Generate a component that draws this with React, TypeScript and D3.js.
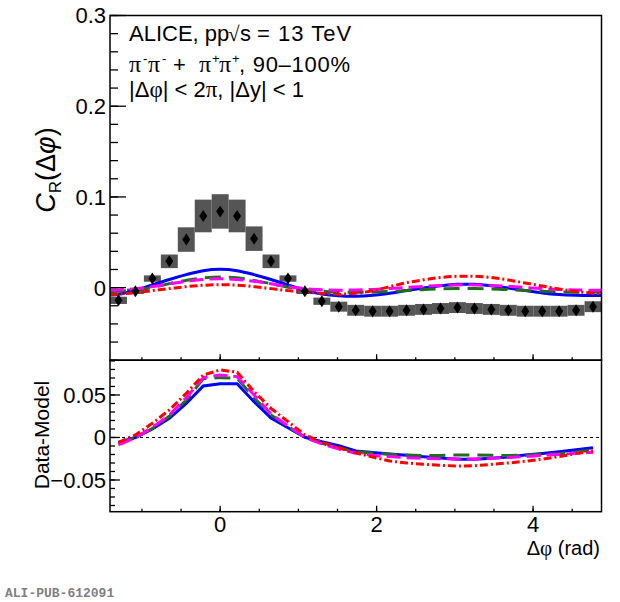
import React from "react";
import * as d3 from "d3";

// Histogram binning: 29 bins over one 2π period, bin 0 centred on Δφ = 0
const NBINS = 29;
const BIN = (2 * Math.PI) / NBINS;
const X_MIN = -6.5 * BIN;
const X_MAX = 22.5 * BIN;
const binCenters = d3.range(-6, 23).map((k) => k * BIN);
// model curves are drawn edge to edge: first / last value at the frame
const modelPhi = [X_MIN, ...binCenters, X_MAX];

// ALICE data, C_R(Δφ), bins k = -6 .. 22
const dataCR = [
  -0.014, -0.004, 0.010, 0.029, 0.053, 0.079, 0.084, 0.079, 0.054, 0.029,
  0.010, -0.004, -0.015, -0.021, -0.025, -0.026, -0.026, -0.025, -0.024, -0.023,
  -0.022, -0.023, -0.024, -0.025, -0.026, -0.026, -0.026, -0.025, -0.021,
];
// systematic uncertainty (half height of the grey boxes)
const systCR = [
  0.004, 0.003, 0.0035, 0.0075, 0.0135, 0.018, 0.019, 0.018, 0.0135, 0.0075,
  0.0035, 0.003, 0.004, 0.0055, 0.006, 0.006, 0.006, 0.006, 0.006, 0.006,
  0.006, 0.006, 0.006, 0.006, 0.006, 0.006, 0.006, 0.006, 0.006,
];

// model predictions (edge, bins -6..22, edge)
const modelBlue = [
  -0.0080, -0.0072, -0.0032, 0.0030, 0.0090, 0.0143, 0.0187, 0.0202, 0.0187, 0.0143,
  0.0090, 0.0030, -0.0030, -0.0070, -0.0090, -0.0096, -0.0085, -0.0062, -0.0032, -0.0005,
  0.0020, 0.0036, 0.0036, 0.0020, -0.0005, -0.0032, -0.0058, -0.0075, -0.0083, -0.0086, -0.0086,
];
const modelGreen = [
  -0.0046, -0.0040, -0.0024, 0.0002, 0.0044, 0.0080, 0.0108, 0.0117, 0.0108, 0.0080,
  0.0044, 0.0004, -0.0022, -0.0040, -0.0048, -0.0050, -0.0048, -0.0042, -0.0032, -0.0022,
  -0.0014, -0.0010, -0.0010, -0.0014, -0.0022, -0.0032, -0.0040, -0.0046, -0.0050, -0.0052, -0.0052,
];
const modelMagenta = [
  -0.0027, -0.0025, -0.0012, 0.0012, 0.0042, 0.0070, 0.0090, 0.0099, 0.0090, 0.0070,
  0.0042, 0.0012, -0.0010, -0.0024, -0.0028, -0.0026, -0.0020, -0.0010, 0.0002, 0.0014,
  0.0024, 0.0030, 0.0030, 0.0024, 0.0014, 0.0002, -0.0010, -0.0020, -0.0026, -0.0028, -0.0029,
];
const modelRed = [
  -0.0076, -0.0072, -0.0055, -0.0033, -0.0011, 0.0011, 0.0026, 0.0033, 0.0026, 0.0011,
  -0.0011, -0.0033, -0.0048, -0.0062, -0.0072, -0.0062, -0.0035, 0.0010, 0.0055, 0.0086,
  0.0112, 0.0125, 0.0125, 0.0112, 0.0085, 0.0050, 0.0018, -0.0015, -0.0042, -0.0062, -0.0070,
];

// lower panel: Data - Model, bins -6..22
const diffBlue = [
  -0.0057, 0.0000, 0.0100, 0.0226, 0.0400, 0.0606, 0.0633, 0.0633, 0.0420, 0.0230,
  0.0115, 0.0002, -0.0050, -0.0096, -0.0159, -0.0178, -0.0194, -0.0210, -0.0226, -0.0242,
  -0.0257, -0.0257, -0.0245, -0.0230, -0.0206, -0.0188, -0.0167, -0.0145, -0.0120,
];
const diffGreen = [
  -0.0075, 0.0000, 0.0105, 0.0250, 0.0440, 0.0690, 0.0704, 0.0696, 0.0468, 0.0265,
  0.0130, 0.0000, -0.0070, -0.0125, -0.0167, -0.0185, -0.0198, -0.0207, -0.0214, -0.0212,
  -0.0206, -0.0206, -0.0210, -0.0212, -0.0206, -0.0200, -0.0190, -0.0170, -0.0147,
];
const diffMagenta = [
  -0.0088, 0.0000, 0.0118, 0.0265, 0.0468, 0.0704, 0.0735, 0.0716, 0.0500, 0.0275,
  0.0137, 0.0000, -0.0076, -0.0135, -0.0186, -0.0210, -0.0225, -0.0237, -0.0245, -0.0250,
  -0.0253, -0.0252, -0.0245, -0.0235, -0.0225, -0.0210, -0.0198, -0.0186, -0.0174,
];
const diffRed = [
  -0.0057, 0.0030, 0.0167, 0.0324, 0.0520, 0.0735, 0.0794, 0.0767, 0.0540, 0.0343,
  0.0186, 0.0030, -0.0057, -0.0120, -0.0180, -0.0230, -0.0277, -0.0300, -0.0316, -0.0328,
  -0.0335, -0.0333, -0.0316, -0.0300, -0.0280, -0.0255, -0.0225, -0.0190, -0.0159,
];

const xTicks = [0, 2, 4];
const yTicksTop = [0, 0.1, 0.2, 0.3];
const yTicksBot = [-0.05, 0, 0.05];

const models = [
  { top: modelBlue, diff: diffBlue, color: "#0000ff", dash: "none" },
  { top: modelGreen, diff: diffGreen, color: "#1e6e1e", dash: "16,8" },
  { top: modelMagenta, diff: diffMagenta, color: "#ff00ff", dash: "14,6" },
  { top: modelRed, diff: diffRed, color: "#ff0000", dash: "8,3,2,3" },
];

const FONT = "'Liberation Sans', Arial, Helvetica, sans-serif";
const SERIF = "'Liberation Serif', 'Times New Roman', serif";

// frame geometry
const L = 110, R = 601.5;
const T1 = 15.5, B1 = 360.2;
const T2 = 360.2, B2 = 511.7;

export default function App() {
  const x = d3.scaleLinear().domain([X_MIN, X_MAX]).range([L, R]);
  const yTop = d3.scaleLinear().domain([-0.08, 0.3]).range([B1, T1]);
  const yBot = d3.scaleLinear().domain([-0.0873, 0.0909]).range([B2, T2]);

  const topLine = d3.line<number>().x((_, i) => x(modelPhi[i])).y((d) => yTop(d)).curve(d3.curveCatmullRom);
  const botLine = d3.line<number>().x((_, i) => x(binCenters[i])).y((d) => yBot(d));

  const xMinor = d3.range(-1, 5, 0.5).filter((v) => v >= X_MIN && v <= X_MAX);
  const yMinorTop = d3.range(-8, 31, 2).map((v) => v / 100);
  const yMinorBot = d3.range(-8, 10, 1).map((v) => v / 100);
  const bw = x(BIN) - x(0);

  return (
    <svg width={620} height={602} style={{ display: "block", position: "absolute", left: 0, top: 0, background: "#fff" }}>
      <defs>
        <clipPath id="clipTop"><rect x={L} y={T1} width={R - L} height={B1 - T1} /></clipPath>
        <clipPath id="clipBot"><rect x={L} y={T2} width={R - L} height={B2 - T2} /></clipPath>
      </defs>

      {/* ---------- upper panel ---------- */}
      <g clipPath="url(#clipTop)">
        {dataCR.map((d, i) => (
          <rect key={i} x={x(binCenters[i]) - bw / 2} y={yTop(d + systCR[i])} width={bw}
            height={yTop(d - systCR[i]) - yTop(d + systCR[i])} fill="#555" />
        ))}
        {models.map((m, i) => (
          <path key={i} d={topLine(m.top) ?? ""} fill="none" stroke={m.color} strokeWidth={3}
            strokeDasharray={m.dash} />
        ))}
        {dataCR.map((d, i) => (
          <path key={i} d="M0,-6L4,0L0,6L-4,0Z" transform={`translate(${x(binCenters[i])},${yTop(d)})`} fill="#000" />
        ))}
      </g>
      <rect x={L} y={T1} width={R - L} height={B1 - T1} fill="none" stroke="#000" strokeWidth={1.5} />
      {yMinorTop.map((v, i) => (
        <line key={i} x1={L} x2={L + 8} y1={yTop(v)} y2={yTop(v)} stroke="#000" strokeWidth={1.3} />
      ))}
      {yTicksTop.map((v) => (
        <g key={v}>
          <line x1={L} x2={L + 16} y1={yTop(v)} y2={yTop(v)} stroke="#000" strokeWidth={1.3} />
          <text x={106} y={yTop(v)} dy="0.36em" textAnchor="end" fontFamily={FONT} fontSize={22}>{v === 0 ? "0" : v.toFixed(1)}</text>
        </g>
      ))}
      {xMinor.map((v, i) => (
        <line key={i} x1={x(v)} x2={x(v)} y1={B1} y2={B1 - 3} stroke="#000" strokeWidth={1.3} />
      ))}
      {xTicks.map((v) => (
        <line key={v} x1={x(v)} x2={x(v)} y1={B1} y2={B1 - 6} stroke="#000" strokeWidth={1.3} />
      ))}

      {/* header text, pieces placed as in the figure */}
      <g fontFamily={FONT} fontSize={22}>
        <text x={129} y={41}>ALICE, pp</text>
        <text x={228} y={41} fontFamily={SERIF} fontSize={21}>√</text>
        <text x={240} y={41}>s</text>
        <text x={257} y={41} letterSpacing={1}>= 13 TeV</text>

        <text x={129} y={72} fontFamily={SERIF} fontSize={24}>π</text>
        <text x={143} y={63} fontSize={13}>-</text>
        <text x={148} y={72} fontFamily={SERIF} fontSize={24}>π</text>
        <text x={162} y={63} fontSize={13}>-</text>
        <text x={173} y={72}>+</text>
        <text x={199} y={72} fontFamily={SERIF} fontSize={24}>π</text>
        <text x={212} y={63} fontSize={13}>+</text>
        <text x={219} y={72} fontFamily={SERIF} fontSize={24}>π</text>
        <text x={232} y={63} fontSize={13}>+</text>
        <text x={239} y={72} textLength={111} lengthAdjust="spacing">, 90–100%</text>

        <text x={129} y={97}>
          |Δ<tspan fontFamily={SERIF} fontSize={23}>φ</tspan>| &lt; 2<tspan fontFamily={SERIF} fontSize={23}>π</tspan>, |Δy| &lt; 1
        </text>
      </g>

      <text transform="translate(55,170) rotate(-90)" textAnchor="middle" fontFamily={FONT} fontSize={27}>
        <tspan fontStyle="italic">C</tspan><tspan fontSize={17} dy={6}>R</tspan><tspan dy={-6}>(Δ</tspan><tspan fontStyle="italic">φ</tspan>)
      </text>

      {/* ---------- lower panel ---------- */}
      <line x1={L} x2={R} y1={yBot(0)} y2={yBot(0)} stroke="#000" strokeWidth={1} strokeDasharray="3,3" />
      <g clipPath="url(#clipBot)">
        {models.map((m, i) => (
          <path key={i} d={botLine(m.diff) ?? ""} fill="none" stroke={m.color} strokeWidth={3}
            strokeDasharray={m.dash} />
        ))}
      </g>
      <rect x={L} y={T2} width={R - L} height={B2 - T2} fill="none" stroke="#000" strokeWidth={1.5} />
      {yMinorBot.map((v, i) => (
        <line key={i} x1={L} x2={L + 5} y1={yBot(v)} y2={yBot(v)} stroke="#000" strokeWidth={1.3} />
      ))}
      {yTicksBot.map((v) => (
        <g key={v}>
          <line x1={L} x2={L + 10} y1={yBot(v)} y2={yBot(v)} stroke="#000" strokeWidth={1.3} />
          <text x={106} y={yBot(v)} dy="0.36em" textAnchor="end" fontFamily={FONT} fontSize={22}>
            {v === 0 ? "0" : v < 0 ? "−0.05" : "0.05"}
          </text>
        </g>
      ))}
      {xMinor.map((v, i) => (
        <line key={i} x1={x(v)} x2={x(v)} y1={B2} y2={B2 - 3} stroke="#000" strokeWidth={1.3} />
      ))}
      {xTicks.map((v) => (
        <g key={v}>
          <line x1={x(v)} x2={x(v)} y1={B2} y2={B2 - 6} stroke="#000" strokeWidth={1.3} />
          <text x={x(v)} y={532} textAnchor="middle" fontFamily={FONT} fontSize={22}>{v}</text>
        </g>
      ))}

      <text transform="translate(49,435) rotate(-90)" textAnchor="middle" fontFamily={FONT} fontSize={21}>Data-Model</text>
      <text x={600} y={555} textAnchor="end" fontFamily={FONT} fontSize={20}>
        Δ<tspan fontFamily={SERIF} fontSize={21}>φ</tspan> (rad)
      </text>

      <text x={5} y={597} fontFamily="'Liberation Mono', 'Courier New', monospace" fontWeight="bold" fontSize={13} fill="#808080">
        ALI-PUB-612091
      </text>
    </svg>
  );
}
